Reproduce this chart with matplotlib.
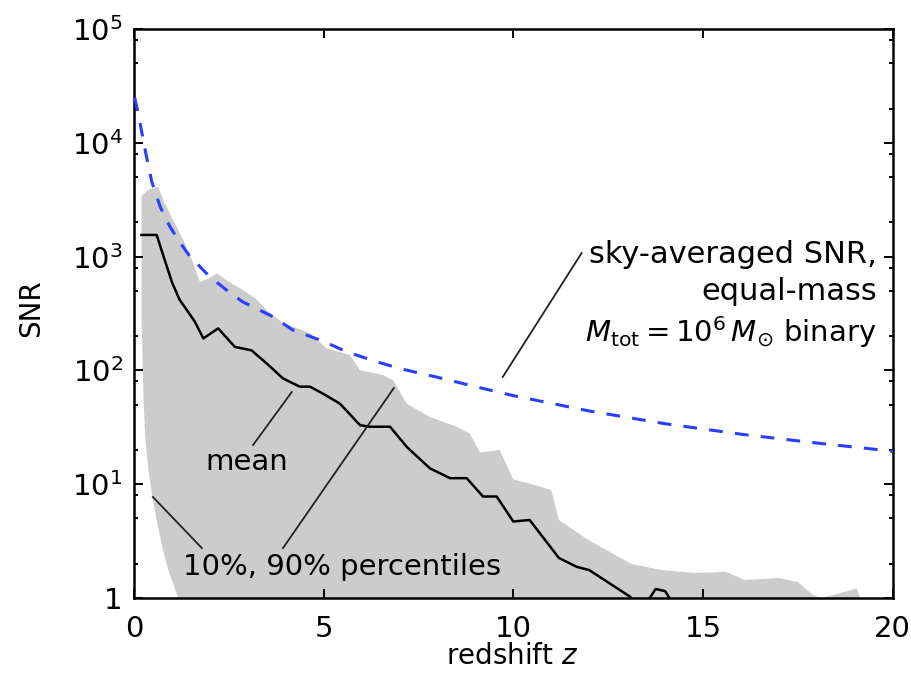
import matplotlib
matplotlib.use('Agg')
import matplotlib.pyplot as plt
import matplotlib.ticker as ticker
import numpy as np

# sky-averaged SNR, equal-mass 1e6 Msun binary
z_sky = [0.02, 0.1, 0.16, 0.3, 0.47, 0.7, 0.95, 1.2, 1.48, 2.0, 2.5, 2.87, 3.66,
         4.19, 5.0, 5.6, 6.3, 7.0, 8.0, 9.0, 10.0, 12.0, 14.0, 16.0, 18.0, 20.0]
snr_sky = [25000, 19000, 15000, 8500, 4550, 2700, 1830, 1350, 1000, 665, 490, 400, 297,
           226, 180, 146, 122, 104, 87, 72, 60, 44, 34, 27.5, 23, 19.5]

# mean SNR of the population
z_mean = [0.2, 0.6, 0.8, 1.0, 1.2, 1.6, 1.83, 2.22, 2.66, 3.1, 3.5, 3.93, 4.37, 4.64,
          5.0, 5.43, 5.96, 6.22, 6.75, 7.19, 7.8, 8.33, 8.77, 9.2, 9.56, 10.0, 10.43,
          11.2, 11.67, 12.0, 13.07, 13.3, 13.55, 13.75, 14.0, 14.2, 14.5, 20.0]
snr_mean = [1550, 1550, 960, 600, 420, 270, 191, 234, 161, 150, 115, 85, 72, 72,
            62, 51, 33, 32, 32, 21.3, 13.8, 11.3, 11.3, 7.8, 7.8, 4.7, 4.85,
            2.25, 1.88, 1.76, 1.03, 0.85, 0.95, 1.2, 1.15, 0.9, 0.5, 0.5]

# 90% percentile (upper edge of the band)
z_p90 = [0.2, 0.4, 0.64, 0.8, 1.0, 1.3, 1.55, 1.74, 2.0, 2.18, 2.5, 2.87, 3.2, 3.5,
         3.93, 4.3, 4.64, 5.08, 5.69, 5.96, 6.3, 6.57, 6.83, 7.19, 7.8, 8.5, 8.85,
         9.12, 9.4, 9.64, 10.0, 10.4, 11.0, 11.2, 12.0, 13.1, 13.9, 14.8, 15.6, 16.1,
         17.0, 17.5, 17.9, 18.1, 18.6, 19.05, 19.25, 20.0]
snr_p90 = [3400, 3900, 4100, 3000, 2200, 1400, 900, 600, 650, 713, 600, 510, 430, 340,
           260, 235, 212, 156, 137, 100, 95, 91, 82, 51, 39, 32, 28,
           19, 19.5, 20, 11, 10.2, 8.9, 4.85, 3.2, 2.0, 1.76, 1.66, 1.7, 1.44,
           1.5, 1.38, 1.06, 1.0, 1.1, 1.22, 0.8, 0.5]

# 10% percentile (lower edge of the band)
z_p10 = [0.2, 0.25, 0.3, 0.4, 0.5, 0.6, 0.77, 0.9, 1.12, 1.3, 1.5, 20.0]
snr_p10 = [300, 60, 25, 12, 7.3, 4.8, 2.6, 1.8, 1.1, 0.8, 0.5, 0.5]

FS = 21

fig = plt.figure(figsize=(9.11, 6.84), dpi=100)
ax = fig.add_axes([0.147, 0.1257, 0.833, 0.8319])

ax.fill(np.concatenate([z_p90, z_p10[::-1]]),
        np.concatenate([snr_p90, snr_p10[::-1]]),
        color='#cccccc', lw=0, zorder=1)
ax.plot(z_mean, snr_mean, color='k', lw=1.8, zorder=3)
ax.plot(z_sky, snr_sky, color='#2b3dff', lw=2.2, ls=(0, (4.5, 4)), zorder=4)

ax.set_yscale('log')
ax.set_xlim(0, 20)
ax.set_ylim(1, 1e5)

ax.set_xticks([0, 5, 10, 15, 20])
ax.set_xticklabels(['0', '5', '10', '15', '20'])
ax.set_yticks([1, 10, 100, 1e3, 1e4, 1e5])
ax.set_yticklabels(['1', r'$10^1$', r'$10^2$', r'$10^3$', r'$10^4$', r'$10^5$'])
ax.yaxis.set_minor_locator(ticker.LogLocator(base=10, subs=(2, 5, 8), numticks=20))
ax.yaxis.set_minor_formatter(ticker.NullFormatter())
ax.xaxis.set_minor_locator(ticker.NullLocator())

ax.tick_params(which='both', direction='in', top=True, right=True, width=1.4,
               labelsize=FS)
ax.tick_params(which='major', length=6.5)
ax.tick_params(which='minor', length=3)
ax.tick_params(axis='x', pad=12)
ax.tick_params(axis='y', pad=8)
for sp in ax.spines.values():
    sp.set_linewidth(1.8)

fig.text(31 / 911, 1 - 308 / 684, 'SNR', rotation=90, ha='center', va='center',
         fontsize=FS - 1)
fig.text(512 / 911, 1 - 656 / 684, r'redshift $z$', ha='center', va='center',
         fontsize=FS - 1)

# annotations and leader lines
lc = '#222222'
ax.plot([4.16, 3.14], [64.6, 22.1], color=lc, lw=1.3, zorder=5)
ax.text(2.98, 15.7, 'mean', ha='center', va='center', fontsize=FS)

ax.plot([0.5, 1.79], [7.72, 2.75], color=lc, lw=1.3, zorder=5)
ax.plot([3.93, 6.85], [2.75, 70], color=lc, lw=1.3, zorder=5)
ax.text(1.29, 1.87, '10%, 90% percentiles', ha='left', va='center', fontsize=FS)

ax.plot([11.8, 9.72], [1075, 87.5], color=lc, lw=1.3, zorder=5)
ax.text(19.58, 879, 'sky-averaged SNR,', ha='right', va='baseline', fontsize=FS + 1)
ax.text(19.58, 416, 'equal-mass', ha='right', va='baseline', fontsize=FS + 1)
ax.text(19.58, 178, r'$M_{\rm tot} = 10^6\,M_{\odot}$ binary', ha='right',
        va='baseline', fontsize=FS)

fig.savefig('out.png', dpi=100)
